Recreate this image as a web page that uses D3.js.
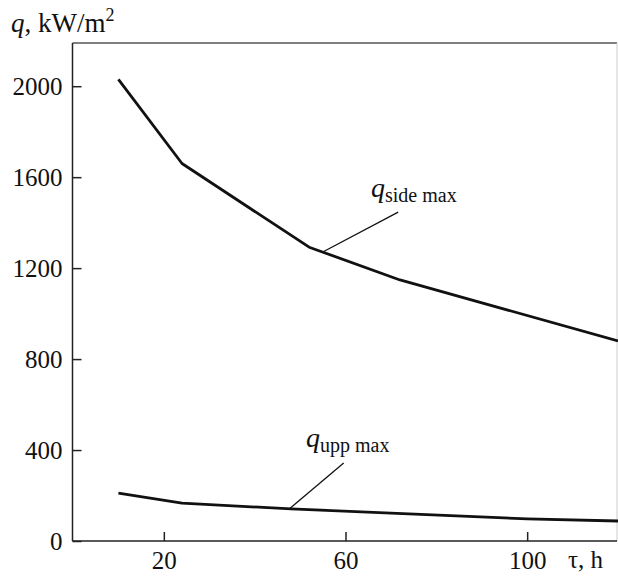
<!DOCTYPE html>
<html>
<head>
<meta charset="utf-8">
<title>q vs tau</title>
<script type="text/javascript" src="https://d3js.org/d3.v7.min.js"></script>
<style>
  body { margin: 0; background: #fff; }
  svg text { font-family: "Liberation Serif", "Times New Roman", serif; fill: #111; }
</style>
</head>
<body>
<script type="text/javascript">
// data
var tauSide = [10, 24, 52, 72, 120]
var qSide = [2030, 1660, 1292, 1148, 880]
var tauUpp = [10, 24, 48, 70, 100, 120]
var qUpp = [211, 167, 141, 123, 97, 88]
var xTicks = [20, 60, 100]
var yTicks = [0, 400, 800, 1200, 1600, 2000]
// leader lines: [tau on curve, q on curve, tau at label, q at label]
var sideLeader = [55.2, 1273, 71.6, 1446]
var uppLeader = [47.6, 141, 59.6, 343]

var width = 618, height = 576
var svg = d3.select("body").append("svg")
    .attr("width", width).attr("height", height)

var x = d3.scaleLinear().domain([0, 120]).range([73, 618])
var y = d3.scaleLinear().domain([0, 2190]).range([541, 43])

// frame
svg.append("line").attr("x1", 72.5).attr("x2", 617).attr("y1", 43).attr("y2", 43)
    .attr("stroke", "#555").attr("stroke-width", 1.6)
svg.append("line").attr("x1", 617).attr("x2", 617).attr("y1", 43).attr("y2", 541)
    .attr("stroke", "#ccc").attr("stroke-width", 1)

var yAxis = d3.axisLeft(y).tickValues(yTicks).tickFormat(d3.format("d"))
    .tickSizeInner(-9).tickSizeOuter(0).tickPadding(10)
var gy = svg.append("g").attr("transform", "translate(72.5,0)").call(yAxis)
var xAxis = d3.axisBottom(x).tickValues(xTicks).tickFormat(d3.format("d"))
    .tickSizeInner(-9).tickSizeOuter(0).tickPadding(10)
var gx = svg.append("g").attr("transform", "translate(0,541)").call(xAxis)

gy.select(".domain").attr("d", "M0," + y.range()[0] + "V" + y.range()[1])
gx.select(".domain").attr("d", "M72.5,0H617")
svg.selectAll(".domain, .tick line").attr("stroke", "#222").attr("stroke-width", 1.5)
svg.selectAll("g").attr("font-family", null).attr("font-size", null)
svg.selectAll(".tick text").style("font-size", "25px").attr("fill", "#111")
gy.selectAll(".tick text").attr("dy", "0.34em")

// curves
var line = d3.line().x(function(d){ return x(d[0]) }).y(function(d){ return y(d[1]) })
svg.append("path").attr("d", line(d3.zip(tauSide, qSide)))
    .attr("fill", "none").attr("stroke", "#111").attr("stroke-width", 2.8).attr("stroke-linejoin", "round")
svg.append("path").attr("d", line(d3.zip(tauUpp, qUpp)))
    .attr("fill", "none").attr("stroke", "#111").attr("stroke-width", 2.8).attr("stroke-linejoin", "round")

// leaders
function leader(l){
    svg.append("line").attr("x1", x(l[0])).attr("y1", y(l[1])).attr("x2", x(l[2])).attr("y2", y(l[3]))
        .attr("stroke", "#111").attr("stroke-width", 1.3)
}
leader(sideLeader)
leader(uppLeader)

function curveLabel(px, py, sub){
    var t = svg.append("text").attr("x", px).attr("y", py)
    t.append("tspan").style("font-style", "italic").style("font-size", "28px").text("q")
    t.append("tspan").style("font-size", "20px").attr("dy", 5).text(sub)
}
curveLabel(371, 197, "side max")
curveLabel(306, 447, "upp max")

// axis titles
var yt = svg.append("text").attr("x", 11).attr("y", 32).style("font-size", "27px")
yt.append("tspan").style("font-style", "italic").text("q")
yt.append("tspan").text(", kW/m")
yt.append("tspan").style("font-size", "18px").attr("dy", -11).text("2")

svg.append("text").attr("x", 568).attr("y", 568).style("font-size", "25px").text("τ, h")
</script>
</body>
</html>
